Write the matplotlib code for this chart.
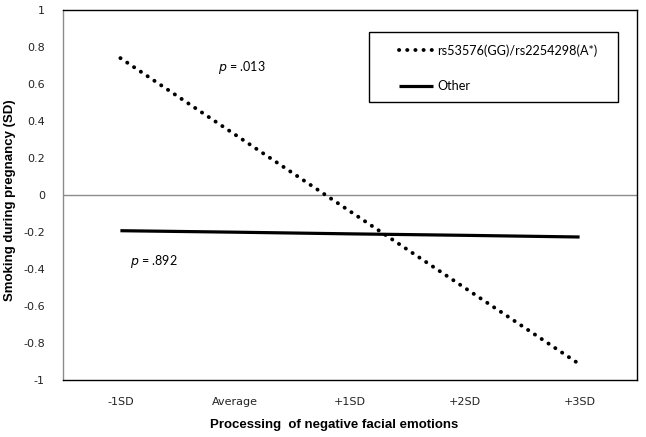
import matplotlib
matplotlib.use("Agg")
import matplotlib.pyplot as plt
from matplotlib.patches import Rectangle

categories = ["-1SD", "Average", "+1SD", "+2SD", "+3SD"]
risk_values = [0.74, 0.326, -0.088, -0.502, -0.915]
other_values = [-0.193, -0.201, -0.210, -0.218, -0.227]
yticks = [-1, -0.8, -0.6, -0.4, -0.2, 0, 0.2, 0.4, 0.6, 0.8, 1]
ytick_labels = ["-1", "-0.8", "-0.6", "-0.4", "-0.2", "0", "0.2", "0.4", "0.6", "0.8", "1"]
series_names = ["rs53576(GG)/rs2254298(A*)", "Other"]

W, H = 646, 437
fig = plt.figure(figsize=(W / 100, H / 100), dpi=100)
ax = fig.add_axes([63 / W, 1 - 380 / H, (637 - 63) / W, (380 - 10) / H])

x = list(range(len(categories)))
ax.axhline(0, color="#8c8c8c", lw=1.0, zorder=1)
ax.plot(x, risk_values, color="black", lw=2.8, linestyle=(0, (0.05, 2.05)),
        dash_capstyle="round", label=series_names[0], zorder=3)
ax.plot(x, other_values, color="black", lw=2.3, solid_capstyle="butt",
        label=series_names[1], zorder=3)

ax.set_xlim(-0.5, len(categories) - 0.5)
ax.set_ylim(-1, 1)
ax.set_xticks(x)
ax.set_xticklabels(categories, fontsize=8, family="DejaVu Sans", color="#222222")
ax.set_yticks(yticks)
ax.set_yticklabels(ytick_labels, fontsize=8, family="DejaVu Sans", color="#222222")
ax.tick_params(axis="both", length=0)
ax.tick_params(axis="x", pad=12)
ax.tick_params(axis="y", pad=13)

for side in ["top", "right", "bottom"]:
    ax.spines[side].set_color("black")
    ax.spines[side].set_linewidth(1.0)
ax.spines["left"].set_color("#8c8c8c")
ax.spines["left"].set_linewidth(1.0)

fig.text(334 / W, 1 - 425 / H, "Processing  of negative facial emotions",
         ha="center", va="center", fontsize=9.5, fontweight="bold",
         family="Liberation Sans")
fig.text(10 / W, 1 - 200 / H, "Smoking during pregnancy (SD)", rotation=90,
         ha="center", va="center", fontsize=9.5, fontweight="bold",
         family="Liberation Sans")

ax.text(218 / W, 1 - 68 / H, r"$\it{p}$ = .013", transform=fig.transFigure,
        ha="left", va="center", fontsize=9, family="Lato")
ax.text(130 / W, 1 - 261 / H, r"$\it{p}$ = .892", transform=fig.transFigure,
        ha="left", va="center", fontsize=9, family="Lato")

# legend box
box = Rectangle((369 / W, 1 - 102 / H), (618 - 369) / W, (102 - 32) / H,
                transform=fig.transFigure, facecolor="white", edgecolor="black",
                lw=1.0, zorder=4, clip_on=False)
ax.add_patch(box)
leg = ax.legend(loc="center left", bbox_to_anchor=(399 / W, 1 - 68 / H),
                bbox_transform=fig.transFigure, frameon=False,
                prop={"family": "Lato", "size": 9.1}, handlelength=2.7,
                handletextpad=0.3, labelspacing=1.85, borderpad=0,
                borderaxespad=0)
leg.set_zorder(5)

fig.savefig("out.png", dpi=100)
